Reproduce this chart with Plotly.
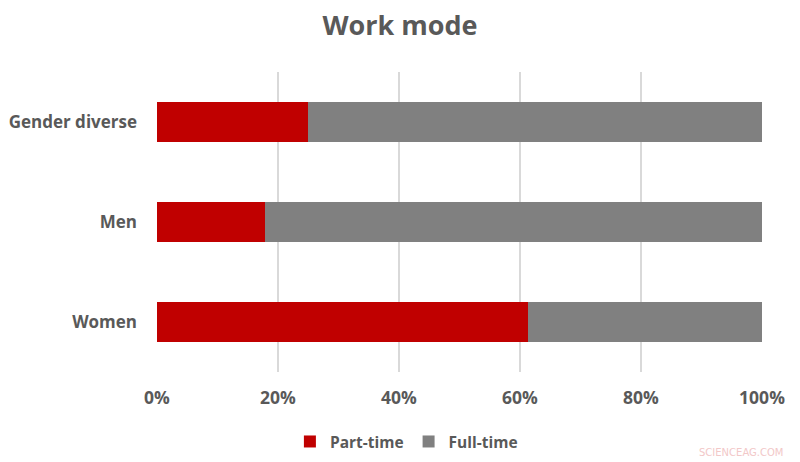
import plotly.graph_objects as go

# data (share of each group, in %)
groups = ["Women", "Men", "Gender diverse"]
part_time = [61.4, 17.9, 25.0]
full_time = [38.6, 82.1, 75.0]
tick_vals = [0, 20, 40, 60, 80, 100]
tick_text = ["0%", "20%", "40%", "60%", "80%", "100%"]

FONT = "Open Sans"
GREY_TXT = "#595959"

fig = go.Figure()
fig.add_trace(go.Bar(y=groups, x=part_time, name="<b>Part-time</b>", orientation="h",
                     marker=dict(color="#c00000", line=dict(width=0))))
fig.add_trace(go.Bar(y=groups, x=full_time, name="<b>Full-time</b>", orientation="h",
                     marker=dict(color="#808080", line=dict(width=0))))

fig.update_layout(
    width=800, height=462,
    barmode="stack", bargap=0.6,
    plot_bgcolor="white", paper_bgcolor="white",
    margin=dict(l=157, r=38, t=72, b=90, autoexpand=False),
    font=dict(family=FONT, color=GREY_TXT),
    title=dict(text="<b>Work mode</b>", x=0.5, xref="container", xanchor="center",
               y=0.945, yanchor="middle",
               font=dict(size=27, color=GREY_TXT, family=FONT)),
    legend=dict(orientation="h", xref="container", x=0.508, xanchor="center",
                y=-0.233, yanchor="middle",
                font=dict(size=15.5, color=GREY_TXT, family=FONT), traceorder="normal"),
    showlegend=True,
)
fig.update_xaxes(range=[0, 100], tickvals=tick_vals,
                 ticktext=["<b>%s</b>" % t for t in tick_text],
                 showgrid=True, gridcolor="#d9d9d9", gridwidth=1.5,
                 zeroline=False, showline=False, ticks="",
                 tickfont=dict(size=17.5, color=GREY_TXT, family=FONT),
                 ticklabelstandoff=13)
fig.update_yaxes(tickvals=groups, ticktext=["<b>%s</b>" % g for g in groups],
                 showgrid=False, zeroline=False, showline=False, ticks="",
                 tickfont=dict(size=17, color=GREY_TXT, family=FONT),
                 ticklabelstandoff=19)

fig.add_annotation(text="SCIENCEAG.COM", xref="paper", yref="paper", x=1.038, y=-0.267,
                   xanchor="right", yanchor="middle", showarrow=False,
                   font=dict(size=10, color="#f2c8c8", family="DejaVu Sans"))

# page body has a default 8px margin; drop it so the chart sits at (0, 0)
fig.write_html("out.html", config={"displayModeBar": False},
               post_script="document.body.style.margin='0';")
